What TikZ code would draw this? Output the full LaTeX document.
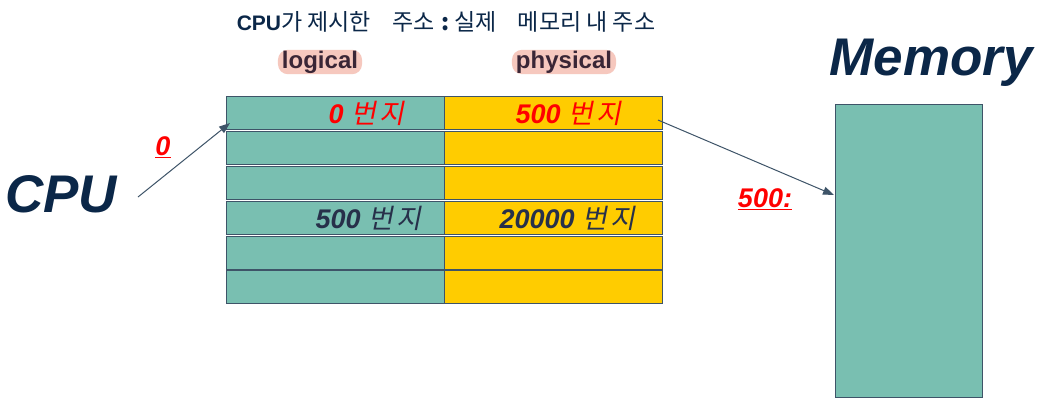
\documentclass[tikz,border=0pt]{standalone}
\usepackage{fontspec}
\setmainfont{Liberation Sans}
\newfontfamily\kr{Noto Sans CJK KR}
\newfontfamily\krs[FakeSlant=0.2]{Noto Sans CJK KR}
\usetikzlibrary{arrows.meta}
\definecolor{teal1}{HTML}{79BFB1}
\definecolor{gold1}{HTML}{FFCC00}
\definecolor{edge1}{HTML}{3E5468}
\definecolor{navy1}{HTML}{0B2748}
\definecolor{ink1}{HTML}{27304A}
\definecolor{plum1}{HTML}{3A2636}
\definecolor{pink1}{HTML}{F6C8BE}
\definecolor{red1}{HTML}{FF0000}
\tikzset{
  cell/.style={draw=edge1, line width=0.9pt, inner sep=0pt, minimum width=218pt, minimum height=33pt, anchor=north west},
  lcell/.style={cell, fill=teal1},
  rcell/.style={cell, fill=gold1},
  conn/.style={draw=edge1, line width=1pt, -{Triangle[length=11pt,width=8pt]}},
  big/.style={font=\fontsize{53}{53}\selectfont\bfseries\itshape, text=navy1, inner sep=0pt},
  tag/.style={font=\fontsize{24}{24}\selectfont\bfseries, text=plum1, fill=pink1, rounded corners=10pt, inner xsep=4pt, inner ysep=1pt},
  celltxt/.style={font=\fontsize{27}{27}\selectfont\bfseries\itshape, inner sep=0pt},
  lbl/.style={font=\fontsize{27}{27}\selectfont\bfseries\itshape, text=red1, inner sep=0pt}
}
\newcommand{\bj}{{\krs\mdseries 번\hspace{4pt}지}}
\begin{document}
\begin{tikzpicture}[x=1pt,y=-1pt]
\path[use as bounding box, fill=white] (0,0) rectangle (1038,410);

% title
\node[inner sep=0pt, text=navy1] (title) at (446,22) {\fontsize{21}{21}\selectfont\textbf{CPU}\fontsize{23}{23}\selectfont\kr 가 제시한\hspace{16pt} 주소\hspace{7pt}\textbf{:}\hspace{5pt}실제\hspace{16pt} 메모리 내 주소};
\node[tag] (logical) at (320,62) {logical};
\node[tag] (physical) at (564,62) {physical};

% table
\foreach \i/\y in {1/96,2/131,3/166,4/201,5/236,6/270}{
  \node[lcell] (l\i) at (226,\y) {};
  \node[rcell] (r\i) at (444,\y) {};
}
\node[celltxt, text=red1, anchor=east] (t1) at (405,113) {0 \bj};
\node[celltxt, text=red1, anchor=east] (t2) at (622,113) {500 \bj};
\node[celltxt, text=ink1, anchor=east] (t3) at (422,218) {500 \bj};
\node[celltxt, text=ink1, anchor=east] (t4) at (636,218) {20000 \bj};

% memory
\node[draw=edge1, line width=0.9pt, fill=teal1, minimum width=147pt, minimum height=293pt, inner sep=0pt, anchor=north west] (mem) at (835,104) {};
\node[big] (memlbl) at (931,63) {Memory};

% cpu
\node[big] (cpu) at (61,194) {CPU};

% connectors
\coordinate (a1) at (138,197);
\coordinate (a2) at (230,123);
\draw[conn] (a1) -- (a2);
\node[lbl] (z) at (163,147) {\underline{0}};

\coordinate (b1) at (658,120);
\coordinate (b2) at (834,195);
\draw[conn] (b1) -- (b2);
\node[lbl] (f) at (765,199) {\underline{500:}};
\end{tikzpicture}
\end{document}
